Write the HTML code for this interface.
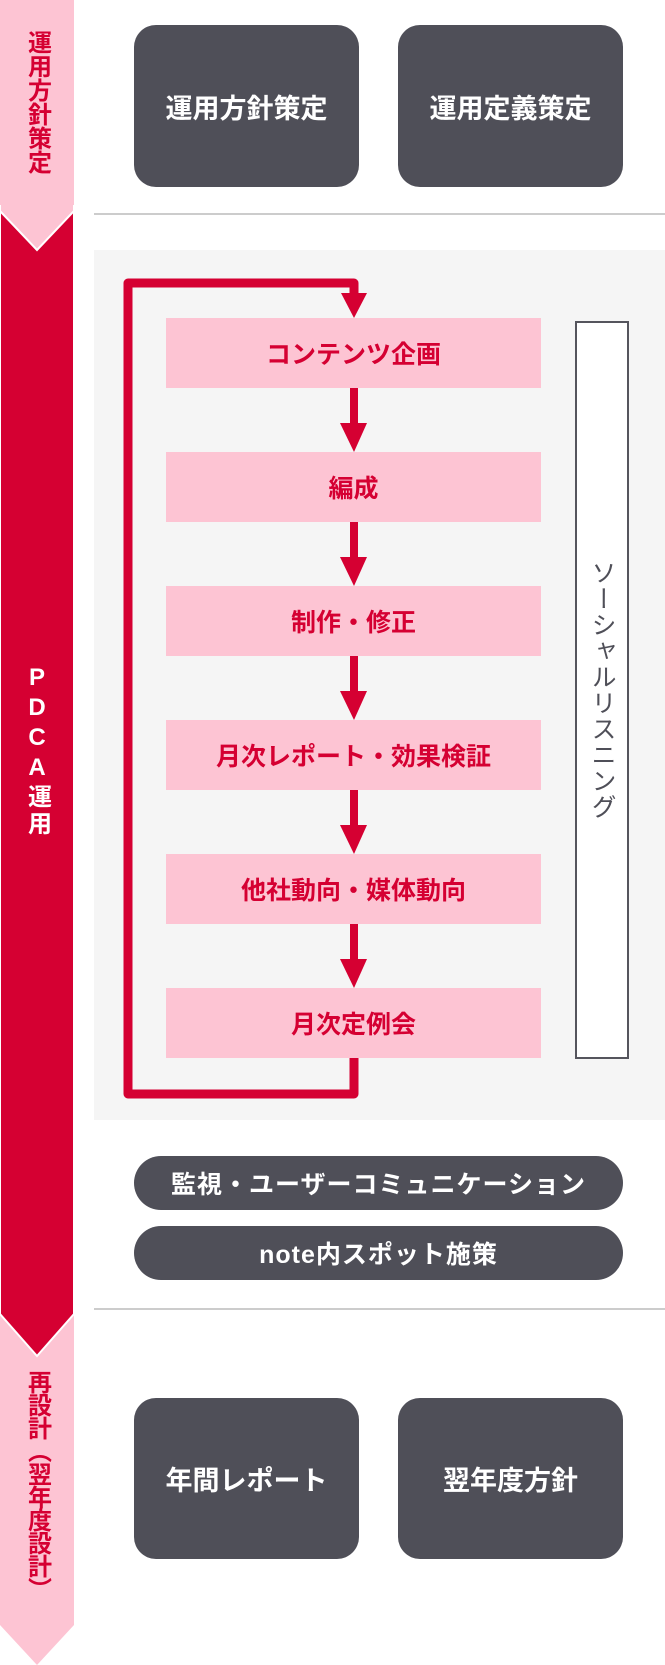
<!DOCTYPE html>
<html><head><meta charset="utf-8"><style>
*{margin:0;padding:0;box-sizing:border-box}
body{width:665px;height:1665px;position:relative;background:#fff;font-family:"Liberation Sans","Noto Sans CJK JP",sans-serif;font-weight:bold;overflow:hidden}
.a{position:absolute}
.dk{background:#4f4f58;color:#fff;display:flex;align-items:center;justify-content:center}
.big{border-radius:22px;font-size:27px}
.pill{border-radius:27px;font-size:25px;letter-spacing:1px}
.pk{background:#fdc4d3;color:#d50032;display:flex;align-items:center;justify-content:center;font-size:25px;left:166px;width:375px;height:70px}
.vt{writing-mode:vertical-rl;text-orientation:upright;font-size:24px;left:0;width:74px;display:flex;align-items:center;justify-content:flex-start;white-space:nowrap}
</style></head><body>
<svg class="a" style="left:0;top:0" width="665" height="1665">
<rect x="94" y="250" width="571" height="870" fill="#f5f5f5"/>
<line x1="94" y1="214" x2="665" y2="214" stroke="#cccccc" stroke-width="2"/>
<line x1="94" y1="1309" x2="665" y2="1309" stroke="#cccccc" stroke-width="2"/>
<polygon points="0,1300 74,1300 74,1625 37,1665 0,1625" fill="#fdc4d3"/>
<polygon points="0,200 74,200 74,1314 37,1356 0,1314" fill="#d50032" stroke="#fff" stroke-width="2"/>
<polygon points="0,0 74,0 74,211 37,250 0,211" fill="#fdc4d3" stroke="#fff" stroke-width="2"/>
<rect x="0" y="0" width="74" height="205" fill="#fdc4d3"/>
<path d="M354,1058 V1094 H128 V283 H354 V295" fill="none" stroke="#d50032" stroke-width="9" stroke-linejoin="round"/>
<polygon points="341,293 367,293 354,318" fill="#d50032"/>
<g fill="#d50032">
<rect x="350" y="388" width="8" height="36"/><polygon points="340,423 367,423 354,452"/>
<rect x="350" y="521" width="8" height="38"/><polygon points="340,557 367,557 354,586"/>
<rect x="350" y="656" width="8" height="37"/><polygon points="340,691 367,691 354,720"/>
<rect x="350" y="790" width="8" height="37"/><polygon points="340,825 367,825 354,854"/>
<rect x="350" y="923" width="8" height="37"/><polygon points="340,959 367,959 354,988"/>
</g>
<rect x="576" y="322" width="52" height="736" fill="#fff" stroke="#55555d" stroke-width="2"/>
</svg>
<div class="a vt" style="top:30px;height:180px;color:#d50032">運用方針策定</div>
<div class="a vt" style="top:664px;height:200px;color:#fff;letter-spacing:3px">PDCA運用</div>
<div class="a vt" style="top:1370px;height:280px;color:#d50032;letter-spacing:-1px">再設計（翌年度設計）</div>
<div class="a dk big" style="left:134px;top:25px;width:225px;height:162px">運用方針策定</div>
<div class="a dk big" style="left:398px;top:25px;width:225px;height:162px">運用定義策定</div>
<div class="a pk" style="top:318px">コンテンツ企画</div>
<div class="a pk" style="top:452px">編成</div>
<div class="a pk" style="top:586px">制作・修正</div>
<div class="a pk" style="top:720px">月次レポート・効果検証</div>
<div class="a pk" style="top:854px">他社動向・媒体動向</div>
<div class="a pk" style="top:988px">月次定例会</div>
<div class="a" style="left:576px;top:322px;width:52px;height:736px;writing-mode:vertical-rl;display:flex;align-items:center;justify-content:center;font-size:25px;color:#4f4f58;font-weight:normal;letter-spacing:1px">ソーシャルリスニング</div>
<div class="a dk pill" style="left:134px;top:1156px;width:489px;height:54px">監視・ユーザーコミュニケーション</div>
<div class="a dk pill" style="left:134px;top:1226px;width:489px;height:54px">note内スポット施策</div>
<div class="a dk big" style="left:134px;top:1398px;width:225px;height:161px">年間レポート</div>
<div class="a dk big" style="left:398px;top:1398px;width:225px;height:161px">翌年度方針</div>
</body></html>
